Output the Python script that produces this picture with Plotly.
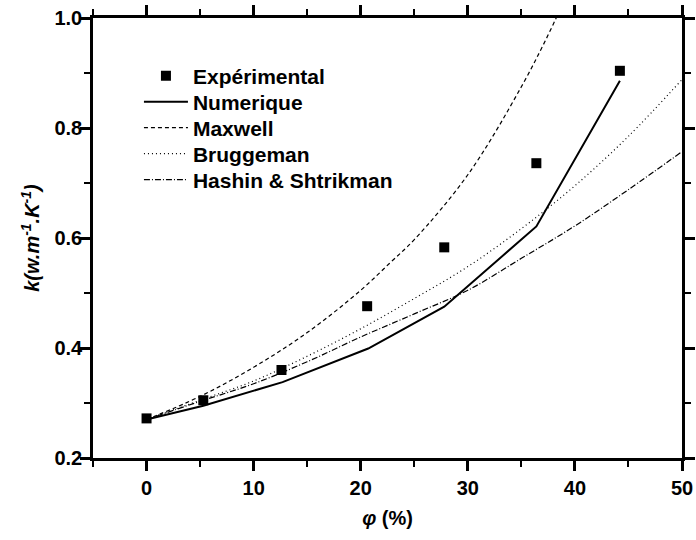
import plotly.graph_objects as go

# Experimental data
phi_exp = [0, 5.3, 12.6, 20.6, 27.8, 36.4, 44.2]
k_exp = [0.272, 0.305, 0.36, 0.476, 0.583, 0.736, 0.904]

# Numerical results
phi_num = [0, 5.3, 12.7, 20.7, 27.8, 36.4, 44.2]
k_num = [0.27, 0.295, 0.338, 0.399, 0.475, 0.621, 0.886]

# Maxwell model
phi_max = [0, 5, 10, 15, 20, 22.8, 25, 30, 35, 38.25, 40]
k_max = [0.27, 0.312, 0.365, 0.428, 0.505, 0.556, 0.597, 0.715, 0.875, 1.0, 1.08]

# Bruggeman model
phi_brug = [0, 5, 10, 15, 20, 25, 30, 35, 40, 45, 50]
k_brug = [0.27, 0.305, 0.34, 0.385, 0.435, 0.49, 0.548, 0.617, 0.695, 0.785, 0.888]

# Hashin & Shtrikman model
phi_hs = [0, 5, 10, 15, 20, 25, 30, 35, 40, 45, 50]
k_hs = [0.27, 0.303, 0.335, 0.375, 0.42, 0.462, 0.505, 0.563, 0.622, 0.688, 0.757]

FONT = "Liberation Sans"

fig = go.Figure()
fig.add_trace(go.Scatter(x=phi_exp, y=k_exp, mode="markers", name="Expérimental", legend="legend",
                         marker=dict(symbol="square", size=10, color="black")))
fig.add_trace(go.Scatter(x=phi_num, y=k_num, mode="lines", name="Numerique", legend="legend2",
                         line=dict(color="black", width=2)))
fig.add_trace(go.Scatter(x=phi_max, y=k_max, mode="lines", name="Maxwell", legend="legend3",
                         line=dict(color="black", width=1.2, dash="4px,3px", shape="spline")))
fig.add_trace(go.Scatter(x=phi_brug, y=k_brug, mode="lines", name="Bruggeman", legend="legend4",
                         line=dict(color="black", width=1.2, dash="1px,3px", shape="spline")))
fig.add_trace(go.Scatter(x=phi_hs, y=k_hs, mode="lines", name="Hashin & Shtrikman", legend="legend5",
                         line=dict(color="black", width=1.2, dash="6px,2px,1px,2px", shape="spline")))

axis_common = dict(
    showline=True, linewidth=2.5, linecolor="black", mirror="ticks",
    ticks="outside", ticklen=10, tickwidth=2.5, tickcolor="black",
    showgrid=False, zeroline=False, automargin=False,
    tickfont=dict(family=FONT, size=20, color="black", weight="bold"),
)

fig.update_xaxes(range=[-5, 50], tick0=0, dtick=10,
                 minor=dict(ticks="outside", dtick=5, tick0=0, ticklen=6, tickwidth=2, tickcolor="black"),
                 title=dict(text="<b><i>φ</i> (%)</b>", font=dict(family=FONT, size=20, color="black"), standoff=14),
                 ticklabelstandoff=0,
                 **axis_common)
fig.update_yaxes(range=[0.2, 1.0], tick0=0.2, dtick=0.2, tickformat=".1f",
                 minor=dict(ticks="outside", dtick=0.1, tick0=0.2, ticklen=6, tickwidth=2, tickcolor="black"),
                 title=dict(text="<b><i>k(w.m<sup>-1</sup>.K<sup>-1</sup>)</i></b>",
                            font=dict(family=FONT, size=20, color="black"), standoff=10),
                 ticklabelstandoff=-6,
                 **axis_common)

leg_common = dict(x=0.078, xanchor="left", yanchor="middle",
                  bgcolor="rgba(0,0,0,0)", borderwidth=0,
                  font=dict(family=FONT, size=21, color="black", weight="bold"),
                  tracegroupgap=0, itemwidth=44)
item_centers_px = [76, 102, 128, 154, 180]
plot_top, plot_h = 18, 440
leg_y = [1 - (c - plot_top) / plot_h for c in item_centers_px]

fig.update_layout(
    width=696, height=540,
    margin=dict(l=93, r=14, t=18, b=82, autoexpand=False),
    paper_bgcolor="white", plot_bgcolor="white",
    showlegend=True,
    legend=dict(y=leg_y[0], **leg_common),
    legend2=dict(y=leg_y[1], **leg_common),
    legend3=dict(y=leg_y[2], **leg_common),
    legend4=dict(y=leg_y[3], **leg_common),
    legend5=dict(y=leg_y[4], **leg_common),
)

fig.write_html("out.html")
